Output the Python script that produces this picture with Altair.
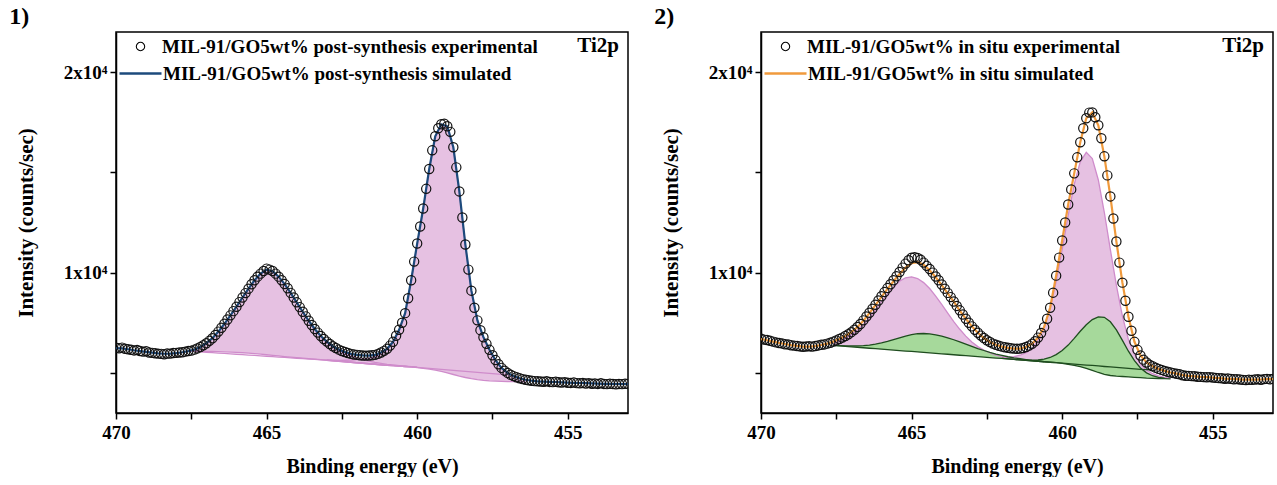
import altair as alt
import pandas as pd

FONT = "Liberation Serif"
N = None

# binding-energy grids (eV)
E = [round(470.0 - 0.1 * i, 1) for i in range(171)]        # experimental points
E_SIM = [round(470.0 - 0.2 * i, 1) for i in range(86)]     # simulated envelope
E_COMP = [round(467.6 - 0.2 * i, 1) for i in range(57)]    # fitted components

# ---------------- panel 1 : post-synthesis ----------------
exp_post = [
    6250, 6230, 6260, 6200, 6180, 6150, 6120, 6140, 6090, 6060,
    6080, 6020, 6000, 5980, 5960, 5950, 5930, 5970, 5960, 5990,
    6000, 6020, 6030, 6060, 6090, 6110, 6160, 6220, 6290, 6380,
    6480, 6600, 6730, 6890, 7060, 7250, 7450, 7660, 7870, 8080,
    8300, 8530, 8760, 8980, 9200, 9420, 9620, 9800, 9950, 10080,
    10200, 10150, 10080, 9950, 9800, 9620, 9430, 9220, 8990, 8760,
    8520, 8280, 8050, 7820, 7600, 7390, 7190, 7010, 6840, 6690,
    6560, 6440, 6330, 6240, 6160, 6090, 6040, 5990, 5950, 5920,
    5900, 5880, 5870, 5860, 5870, 5880, 5900, 5950, 6020, 6100,
    6200, 6360, 6550, 6850, 7150, 7500, 7980, 8720, 9620, 10550,
    11450, 12300, 13200, 14180, 15170, 16100, 16800, 17200, 17400, 17430,
    17300, 17020, 16250, 15250, 14050, 12750, 11400, 10150, 9100, 8250,
    7620, 7130, 6780, 6450, 6150, 5880, 5640, 5430, 5250, 5110,
    5000, 4910, 4840, 4780, 4730, 4690, 4660, 4630, 4610, 4590,
    4580, 4570, 4560, 4580, 4550, 4540, 4560, 4530, 4520, 4540,
    4510, 4500, 4520, 4490, 4480, 4500, 4470, 4490, 4460, 4470,
    4450, 4480, 4450, 4440, 4460, 4450, 4430, 4450, 4440, 4460,
    4450,
]
sim_post = [
    6240, 6220, 6180, 6130, 6090, 6050, 6010, 5975, 5955, 5960,
    5990, 6030, 6085, 6160, 6290, 6480, 6730, 7060, 7450, 7870,
    8300, 8760, 9200, 9620, 9950, 10150, 10070, 9800, 9430, 8990,
    8520, 8050, 7600, 7190, 6840, 6560, 6330, 6160, 6040, 5950,
    5900, 5870, 5865, 5900, 6020, 6200, 6550, 7150, 7980, 9620,
    11450, 13200, 15170, 16800, 17400, 17300, 16250, 14050, 11400, 9100,
    7620, 6780, 6150, 5640, 5250, 5000, 4840, 4730, 4660, 4610,
    4580, 4565, 4555, 4545, 4530, 4515, 4505, 4495, 4485, 4475,
    4465, 4455, 4450, 4445, 4445, 4445,
]
bg_lin_post = [
    6090, 6070, 6050, 6030, 6010, 5990, 5970, 5950, 5930, 5910,
    5890, 5870, 5850, 5830, 5810, 5790, 5770, 5750, 5730, 5710,
    5690, 5670, 5650, 5630, 5605, 5580, 5555, 5530, 5505, 5480,
    5455, 5430, 5405, 5380, 5360, 5340, 5320, 5300, 5280, 5255,
    5230, 5205, 5180, 5155, 5130, 5105, 5080, 5055, 5030, 5005,
    4980, 4955, 4930, 4905, N, N, N,
]
bg_a_post = [
    6090, 6085, 6080, 6075, 6070, 6062, 6052, 6040, 6025, 6005,
    5985, 5960, 5935, 5905, 5875, 5845, 5815, 5785, 5758, 5732,
    5708, 5684, 5660, 5636, 5610, 5583, 5557, 5531, 5506, 5480,
    5455, 5430, 5405, 5380, 5360, 5340, 5320, 5300, 5280, N,
    N, N, N, N, N, N, N, N, N, N,
    N, N, N, N, N, N, N,
]
peak_a_post = [
    6090, 6150, 6270, 6460, 6710, 7040, 7430, 7850, 8280, 8740,
    9180, 9600, 9930, 10150, 10060, 9780, 9410, 8970, 8500, 8030,
    7580, 7170, 6820, 6530, 6300, 6110, 5960, 5840, 5740, 5660,
    5590, 5530, 5480, 5430, 5395, 5365, 5335, 5310, 5285, N,
    N, N, N, N, N, N, N, N, N, N,
    N, N, N, N, N, N, N,
]
bg_b_post = [
    N, N, N, N, N, N, N, N, N, N,
    N, N, N, N, N, N, N, N, N, N,
    N, N, N, 5630, 5605, 5580, 5555, 5530, 5505, 5480,
    5455, 5430, 5405, 5380, 5360, 5340, 5320, 5300, 5265, 5230,
    5190, 5140, 5080, 5000, 4920, 4840, 4770, 4710, 4665, 4630,
    4605, 4590, 4578, 4568, 4560, 4553, 4548,
]
peak_b_post = [
    N, N, N, N, N, N, N, N, N, N,
    N, N, N, N, N, N, N, N, N, N,
    N, N, N, 5632, 5630, 5622, 5630, 5640, 5665, 5700,
    5740, 5800, 5945, 6140, 6510, 7120, 7930, 9590, 11420, 13180,
    15150, 16780, 17390, 17290, 16230, 14030, 11380, 9090, 7610, 6770,
    6140, 5630, 5240, 4990, 4830, 4720, 4650,
]

# ---------------- panel 2 : in situ ----------------
exp_insitu = [
    6700, 6660, 6640, 6600, 6560, 6520, 6490, 6470, 6430, 6420,
    6380, 6360, 6340, 6320, 6300, 6320, 6330, 6310, 6340, 6370,
    6400, 6420, 6460, 6500, 6560, 6620, 6690, 6760, 6840, 6930,
    7030, 7150, 7290, 7440, 7620, 7810, 8000, 8200, 8400, 8610,
    8820, 9030, 9230, 9420, 9620, 9820, 10030, 10250, 10450, 10620,
    10740, 10770, 10730, 10640, 10500, 10340, 10180, 10000, 9810, 9620,
    9410, 9200, 8990, 8780, 8560, 8340, 8120, 7910, 7700, 7500,
    7320, 7150, 7000, 6860, 6740, 6630, 6540, 6460, 6400, 6350,
    6310, 6280, 6250, 6230, 6210, 6200, 6210, 6240, 6290, 6360,
    6450, 6580, 6760, 6990, 7280, 7700, 8250, 9000, 9850, 10750,
    11600, 12500, 13400, 14150, 14950, 15750, 16500, 17200, 17700, 17980,
    17990, 17750, 17350, 16700, 15800, 14850, 13800, 12700, 11550, 10500,
    9500, 8600, 7800, 7100, 6550, 6150, 5870, 5660, 5520, 5410,
    5330, 5260, 5200, 5150, 5100, 5060, 5020, 4990, 4960, 4930,
    4880, 4860, 4850, 4840, 4830, 4810, 4800, 4790, 4780, 4790,
    4770, 4750, 4740, 4730, 4710, 4720, 4700, 4680, 4690, 4670,
    4650, 4640, 4660, 4650, 4670, 4680, 4660, 4690, 4700, 4680,
    4700,
]
sim_insitu = [
    6690, 6630, 6560, 6495, 6440, 6385, 6345, 6315, 6315, 6335,
    6390, 6460, 6560, 6690, 6840, 7030, 7280, 7600, 7980, 8380,
    8790, 9190, 9570, 9930, 10250, 10470, 10520, 10390, 10120, 9770,
    9380, 8970, 8550, 8110, 7700, 7320, 7000, 6740, 6540, 6400,
    6310, 6250, 6210, 6210, 6290, 6450, 6760, 7280, 8250, 9850,
    11600, 13400, 14950, 16500, 17700, 17990, 17350, 15800, 13800, 11550,
    9500, 7800, 6550, 5870, 5520, 5330, 5200, 5100, 5020, 4960,
    4890, 4850, 4830, 4800, 4785, 4765, 4740, 4715, 4700, 4685,
    4665, 4660, 4665, 4670, 4685, 4695,
]
bg_lin_insitu = [
    6370, 6350, 6325, 6300, 6280, 6255, 6230, 6210, 6185, 6160,
    6140, 6115, 6090, 6070, 6045, 6020, 6000, 5975, 5950, 5930,
    5905, 5880, 5860, 5835, 5810, 5790, 5765, 5740, 5720, 5695,
    5670, 5650, 5625, 5600, 5580, 5555, 5530, 5510, 5485, 5460,
    5440, 5415, 5390, 5370, 5345, 5320, 5300, 5275, 5250, 5230,
    5205, 5180, 5160, 5135, N, N, N,
]
pink_a_insitu = [
    6450, 6622, 6738, 6906, 7136, 7419, 7759, 8148, 8551, 8943,
    9298, 9575, 9743, 9790, 9705, 9502, 9207, 8832, 8413, 7983,
    7560, 7175, 6835, 6546, 6312, 6136, 5992, 5885, 5809, 5747,
    5700, 5665, 5633, N, N, N, N, N, N, N,
    N, N, N, N, N, N, N, N, N, N,
    N, N, N, N, N, N, N,
]
green_a_insitu = [
    6370, 6364, 6350, 6342, 6347, 6360, 6386, 6434, 6494, 6569,
    6659, 6749, 6834, 6908, 6953, 6965, 6947, 6900, 6833, 6752,
    6653, 6544, 6437, 6323, 6214, 6117, 6022, 5939, 5869, 5805,
    5749, 5705, 5663, 5625, 5595, 5563, N, N, N, N,
    N, N, N, N, N, N, N, N, N, N,
    N, N, N, N, N, N, N,
]
bg_b_insitu = [
    N, N, N, N, N, N, N, N, N, N,
    N, N, N, N, N, N, N, N, N, N,
    N, N, N, N, N, N, N, N, 5720, 5695,
    5670, 5650, 5625, 5600, 5580, 5555, 5530, 5510, 5470, 5430,
    5380, 5310, 5220, 5120, 5020, 4930, 4870, 4840, 4820, 4800,
    4780, 4760, 4740, 4730, 4720, 4710, 4700,
]
pink_b_insitu = [
    N, N, N, N, N, N, N, N, N, N,
    N, N, N, N, N, N, N, N, N, N,
    N, N, N, N, N, N, N, N, 5760, 5775,
    5810, 5880, 6005, 6220, 6630, 7305, 8219, 9560, 11151, 12850,
    14398, 15527, 15996, 15693, 14621, 12998, 11145, 9365, 7833, 6658,
    5930, 5440, 5140, 4960, 4850, 4780, 4740,
]
green_b_insitu = [
    N, N, N, N, N, N, N, N, N, N,
    N, N, N, N, N, N, N, N, N, N,
    N, N, N, N, N, N, N, N, N, N,
    N, N, 5640, 5635, 5650, 5688, 5769, 5913, 6112, 6387,
    6721, 7076, 7404, 7657, 7789, 7770, 7551, 7146, 6623, 6081,
    5609, 5248, 5001, 4858, 4780, 4735, N,
]

# tick values
X_TICKS = [470, 467.5, 465, 462.5, 460, 457.5, 455]
Y_TICKS = [5000, 10000, 15000, 20000]

# colours
PINK_FILL = "#e6c1e2"
PINK_LINE = "#cf8ccb"
GREEN_FILL = "#a6d99b"
GREEN_LINE = "#1f4d1f"
BLUE = "#1d4a7c"
ORANGE = "#f09a3c"

XSCALE = alt.Scale(domain=[453, 470], reverse=True, nice=False, zero=False)
YSCALE = alt.Scale(domain=[3000, 22000], nice=False, zero=False)
XAXIS = alt.Axis(
    values=X_TICKS, title="Binding energy (eV)",
    labelExpr="datum.value % 5 == 0 ? format(datum.value, 'd') : ''",
    tickSize=6, labelPadding=4, titlePadding=14, labelFlush=False,
    labelFontSize=19, titleFontSize=20,
)
YAXIS = alt.Axis(
    values=Y_TICKS, title="Intensity (counts/sec)",
    labelExpr="datum.value == 10000 ? '1x10⁴' : (datum.value == 20000 ? '2x10⁴' : '')",
    tickSize=6, labelPadding=3, titlePadding=27,
    labelFontSize=19, titleFontSize=21,
)
LEG_FONT = dict(labelFont=FONT, labelFontSize=19, labelFontWeight="bold",
                labelColor="black", labelLimit=800, padding=0, title=None, orient="none")


def comp_df(top, base):
    df = pd.DataFrame({"x": E_COMP, "y": top, "b": base}).dropna()
    return df.astype(float)


def lines_df(series):
    parts = []
    for i, vals in enumerate(series):
        d = pd.DataFrame({"x": E_COMP, "y": vals}).dropna().astype(float)
        d["id"] = i
        parts.append(d)
    return pd.concat(parts, ignore_index=True)


def make_panel(tag, exp_vals, sim_vals, sim_color, exp_label, sim_label,
               fills, line_groups):
    xenc = alt.X("x:Q", scale=XSCALE, axis=XAXIS)
    yenc = alt.Y("y:Q", scale=YSCALE, axis=YAXIS)
    layers = []
    for top, base, color in fills:
        layers.append(
            alt.Chart(comp_df(top, base)).mark_area(color=color, opacity=1, clip=True)
            .encode(x=xenc, y=yenc, y2="b:Q")
        )
    for series, color, width in line_groups:
        layers.append(
            alt.Chart(lines_df(series)).mark_line(color=color, strokeWidth=width, clip=True)
            .encode(x=xenc, y=yenc, detail="id:N")
        )
    sim_df = pd.DataFrame({"x": E_SIM, "y": sim_vals, "lbl": sim_label})
    layers.append(
        alt.Chart(sim_df).mark_line(strokeWidth=2.2, clip=True).encode(
            x=xenc, y=yenc,
            color=alt.Color("lbl:N", scale=alt.Scale(range=[sim_color]),
                            legend=alt.Legend(
                                legendX=2, legendY=19,
                                symbolType="stroke", symbolSize=1764,
                                symbolStrokeWidth=2.5, labelOffset=0, **LEG_FONT)),
        )
    )
    exp_df = pd.DataFrame({"x": E, "y": exp_vals, "lbl": exp_label})
    layers.append(
        alt.Chart(exp_df).mark_point(filled=False, size=85, strokeWidth=1.2,
                                     color="#111111", opacity=1, clip=True).encode(
            x=xenc, y=yenc,
            shape=alt.Shape("lbl:N", scale=alt.Scale(range=["circle"]),
                            legend=alt.Legend(
                                legendX=2, legendY=5,
                                symbolSize=70, symbolStrokeWidth=1.1,
                                symbolStrokeColor="black", symbolFillColor="transparent",
                                symbolOffset=13, labelOffset=12, **LEG_FONT)),
        )
    )
    txt = pd.DataFrame({"x": [453.3], "y": [21300], "t": ["Ti2p"]})
    layers.append(
        alt.Chart(txt).mark_text(align="right", baseline="middle", font=FONT,
                                 fontSize=21, fontWeight="bold", color="black")
        .encode(x=xenc, y=yenc, text="t:N")
    )
    return alt.layer(*layers).properties(
        width=512, height=381,
        title=alt.TitleParams(tag, anchor="start", frame="bounds", font=FONT,
                              fontSize=24, fontWeight="bold", color="black",
                              offset=3, dx=-6),
    )


p1 = make_panel(
    "1)", exp_post, sim_post, BLUE,
    "MIL-91/GO5wt% post-synthesis experimental",
    "MIL-91/GO5wt% post-synthesis simulated",
    fills=[(peak_a_post, bg_a_post, PINK_FILL), (peak_b_post, bg_b_post, PINK_FILL)],
    line_groups=[([peak_a_post, peak_b_post, bg_a_post, bg_b_post, bg_lin_post], PINK_LINE, 1.3)],
)
p2 = make_panel(
    "2)", exp_insitu, sim_insitu, ORANGE,
    "MIL-91/GO5wt% in situ experimental",
    "MIL-91/GO5wt% in situ simulated",
    fills=[(pink_a_insitu, bg_lin_insitu, PINK_FILL), (pink_b_insitu, bg_b_insitu, PINK_FILL),
           (green_a_insitu, bg_lin_insitu, GREEN_FILL), (green_b_insitu, bg_b_insitu, GREEN_FILL)],
    line_groups=[([pink_a_insitu, pink_b_insitu], PINK_LINE, 1.3),
                 ([green_a_insitu, green_b_insitu, bg_lin_insitu, bg_b_insitu], GREEN_LINE, 1.3)],
)

chart = (
    alt.hconcat(p1, p2, spacing=24)
    .resolve_scale(color="independent", shape="independent")
    .resolve_legend(color="independent", shape="independent")
    .properties(padding={"left": 8, "top": 4, "right": 0, "bottom": 0}, background="white")
    .configure_view(stroke="black", strokeWidth=1.5)
    .configure_axis(grid=False, domainColor="black", domainWidth=1.5, tickColor="black",
                    tickWidth=1.5, labelFont=FONT, titleFont=FONT, labelFontWeight="bold",
                    titleFontWeight="bold", labelColor="black", titleColor="black")
)

chart.save("out.html", embed_options={"renderer": "svg", "actions": False})
